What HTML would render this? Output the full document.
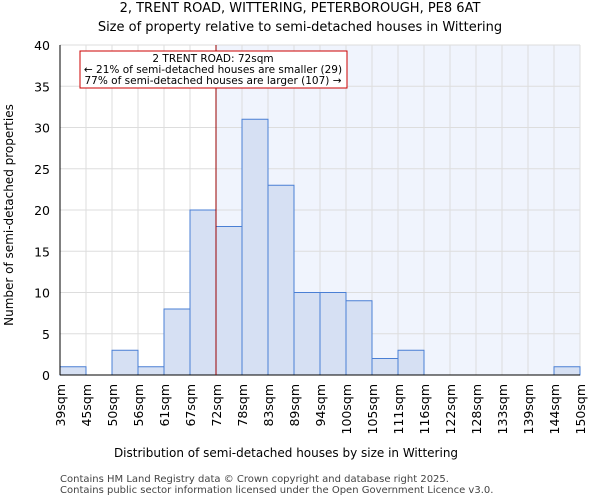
<!DOCTYPE html>
<html><head><meta charset="utf-8"><style>
body{margin:0;background:#fff;font-family:"DejaVu Sans","Liberation Sans",sans-serif;}
</style></head><body>
<svg width="600" height="500" xmlns="http://www.w3.org/2000/svg" font-family="DejaVu Sans, Liberation Sans, sans-serif">
<text x="300" y="12" font-size="13" text-anchor="middle">2, TRENT ROAD, WITTERING, PETERBOROUGH, PE8 6AT</text>
<text x="300" y="31" font-size="13" text-anchor="middle">Size of property relative to semi-detached houses in Wittering</text>
<g id="plot"></g>
<text x="286" y="457" font-size="12" text-anchor="middle">Distribution of semi-detached houses by size in Wittering</text>
<text transform="translate(13,215) rotate(-90)" font-size="12" text-anchor="middle">Number of semi-detached properties</text>
<text x="60" y="482" font-size="10" fill="#444">Contains HM Land Registry data © Crown copyright and database right 2025.</text>
<text x="60" y="493" font-size="10" fill="#444">Contains public sector information licensed under the Open Government Licence v3.0.</text>
</svg>
<script>
const categories=["39sqm","45sqm","50sqm","56sqm","61sqm","67sqm","72sqm","78sqm","83sqm","89sqm","94sqm","100sqm","105sqm","111sqm","116sqm","122sqm","128sqm","133sqm","139sqm","144sqm","150sqm"];
const counts=[1,0,3,1,8,20,18,31,23,10,10,9,2,3,0,0,0,0,0,1];
const yTicks=[0,5,10,15,20,25,30,35,40];
const markerIndex=6;
const NS="http://www.w3.org/2000/svg";
const L=60,R=580,T=45,B=375,yMax=40;
const bw=(R-L)/counts.length;
const xs=i=>L+i*bw;
const ys=v=>B-(v/yMax)*(B-T);
const g=document.getElementById('plot');
function mk(t,a,p){const e=document.createElementNS(NS,t);for(const k in a)e.setAttribute(k,a[k]);(p||g).appendChild(e);return e;}
let e;
e=mk('rect',{x:xs(markerIndex),y:T,width:R-xs(markerIndex),height:B-T,fill:'#f0f4fd'});


for(let i=0;i<=counts.length;i++){e=mk('line',{x1:xs(i),x2:xs(i),y1:T,y2:B,stroke:'#ddd','stroke-width':1});

}
yTicks.forEach(v=>{e=mk('line',{x1:L,x2:R,y1:ys(v),y2:ys(v),stroke:'#ddd','stroke-width':1});


e=mk('text',{x:L-10,y:ys(v)+5,'font-size':12.5,'text-anchor':'end'});e.textContent=v;

});
counts.forEach((v,i)=>{if(v<=0)return;e=mk('rect',{x:xs(i),y:ys(v),width:bw,height:B-ys(v),fill:'#d6e0f3',stroke:'#4a7fd4','stroke-width':1});

});
categories.forEach((c,i)=>{e=mk('text',{transform:`translate(${xs(i)+5},384) rotate(-90)`,'font-size':12.5,'text-anchor':'end'});e.textContent=c;

});
e=mk('line',{x1:L,x2:L,y1:T,y2:B,stroke:'#000'});


e=mk('line',{x1:L,x2:R,y1:B,y2:B,stroke:'#000'});


e=mk('line',{x1:xs(markerIndex),x2:xs(markerIndex),y1:T,y2:B,stroke:'#900','stroke-width':1});


const ag=mk('g',{});


mk('rect',{x:80,y:51,width:267,height:37,fill:'#fff',stroke:'#c00','stroke-width':1},ag);
[["2 TRENT ROAD: 72sqm",62],["← 21% of semi-detached houses are smaller (29)",73],["77% of semi-detached houses are larger (107) →",84]].forEach(([t,y])=>{e=mk('text',{x:213,y:y,'font-size':10.5,'text-anchor':'middle'},ag);e.textContent=t;

});
</script>
</body></html>
